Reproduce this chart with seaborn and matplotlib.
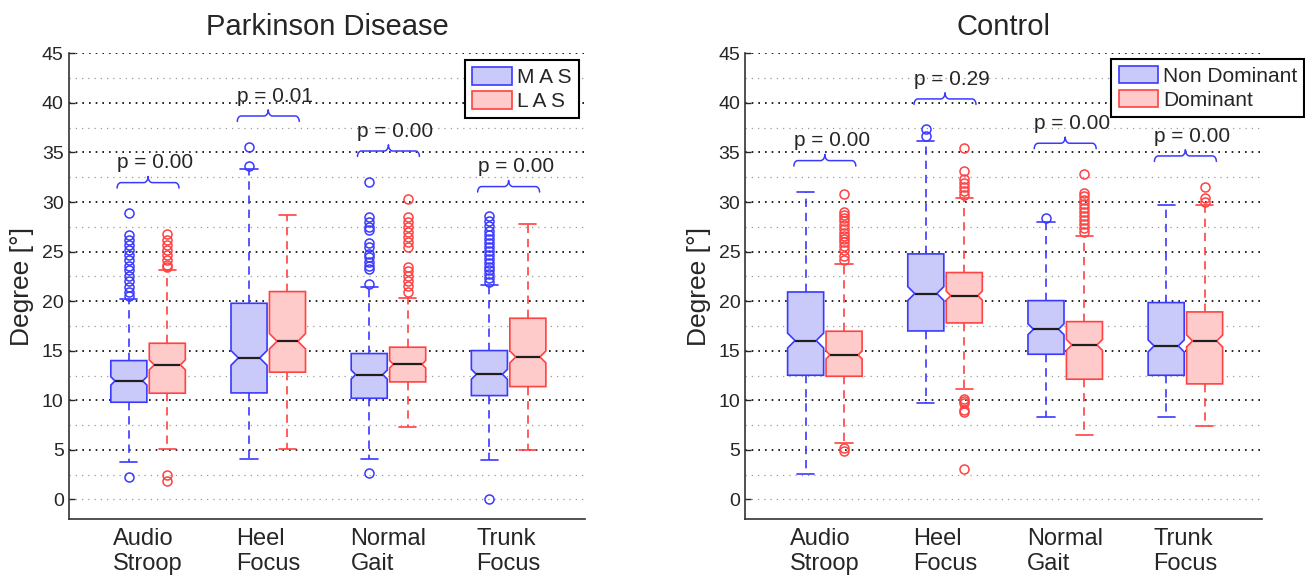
import numpy as np
import matplotlib
matplotlib.use("Agg")
import matplotlib.pyplot as plt
from matplotlib.path import Path
from matplotlib.patches import Patch
import seaborn as sns

# ---------------------------------------------------------------- data
tasks = ["Audio\nStroop", "Heel\nFocus", "Normal\nGait", "Trunk\nFocus"]

# Parkinson Disease: more affected side (MAS)
pd_mas_q1 = [9.81, 10.75, 10.21, 10.48]
pd_mas_med = [11.96, 14.28, 12.60, 12.63]
pd_mas_q3 = [14.01, 19.79, 14.72, 15.02]
pd_mas_lo = [3.83, 4.10, 4.10, 4.00]
pd_mas_hi = [20.20, 33.30, 21.40, 21.65]
pd_mas_notch = [0.42, 0.74, 0.45, 0.50]
pd_mas_out = [
    [2.3, 20.5, 20.9, 21.4, 22.0, 22.5, 23.1, 23.6, 24.2, 24.7, 25.2, 25.7, 26.2, 26.7, 28.9],
    [33.6, 35.6],
    [2.65, 21.7, 23.2, 23.6, 24.0, 24.5, 24.8, 25.5, 25.9, 27.2, 27.5, 28.0, 28.5, 32.06],
    [0.0, 21.9, 22.3, 22.7, 23.1, 23.5, 23.9, 24.3, 24.7, 25.1, 25.5, 25.9, 26.3, 26.7,
     27.1, 27.6, 28.1, 28.6],
]

# Parkinson Disease: less affected side (LAS)
pd_las_q1 = [10.72, 12.84, 11.86, 11.39]
pd_las_med = [13.58, 15.96, 13.64, 14.38]
pd_las_q3 = [15.76, 20.97, 15.36, 18.28]
pd_las_lo = [5.10, 5.14, 7.33, 5.00]
pd_las_hi = [23.16, 28.74, 20.30, 27.76]
pd_las_notch = [0.50, 0.77, 0.37, 0.60]
pd_las_out = [
    [1.9, 2.5, 23.4, 23.7, 24.2, 24.7, 25.2, 25.7, 26.2, 26.75],
    [],
    [20.9, 21.5, 22.0, 22.5, 23.0, 23.5, 25.5, 26.0, 26.5, 27.0, 27.5, 28.0, 28.5, 30.3],
    [],
]

# Control: non dominant side
ct_nd_q1 = [12.53, 17.00, 14.65, 12.53]
ct_nd_med = [16.03, 20.77, 17.17, 15.49]
ct_nd_q3 = [20.93, 24.77, 20.06, 19.86]
ct_nd_lo = [2.55, 9.71, 8.27, 8.30]
ct_nd_hi = [31.06, 36.20, 27.96, 29.74]
ct_nd_notch = [0.75, 0.70, 0.55, 0.60]
ct_nd_out = [[], [36.7, 37.4], [28.4], []]

# Control: dominant side
ct_d_q1 = [12.43, 17.81, 12.13, 11.66]
ct_d_med = [14.58, 20.56, 15.59, 15.99]
ct_d_q3 = [16.97, 22.89, 17.94, 18.92]
ct_d_lo = [5.68, 11.16, 6.49, 7.39]
ct_d_hi = [23.76, 30.45, 26.62, 29.74]
ct_d_notch = [0.40, 0.45, 0.55, 0.60]
ct_d_out = [
    [4.9, 5.15, 24.2, 24.6, 25.2, 25.6, 26.0, 26.3, 26.6, 26.9, 27.3, 27.7, 28.1, 28.4,
     28.7, 29.0, 30.85],
    [3.1, 8.8, 9.0, 9.7, 9.9, 10.15, 30.7, 31.1, 31.5, 31.9, 32.3, 33.1, 35.5],
    [27.0, 27.4, 27.8, 28.2, 28.6, 29.0, 29.4, 29.8, 30.2, 30.6, 30.9, 32.8],
    [30.0, 30.4, 31.5],
]

# p-values of the paired comparisons and height of their braces
pd_pvals = ["0.00", "0.01", "0.00", "0.00"]
pd_brace_y = [31.96, 38.68, 35.15, 31.56]
ct_pvals = ["0.00", "0.29", "0.00", "0.00"]
ct_brace_y = [34.18, 40.40, 35.93, 34.65]

# ---------------------------------------------------------------- style
BLUE = "#3a3aff"
BLUE_FILL = "#c9c9fa"
RED = "#ff4242"
RED_FILL = "#ffcaca"
TEXT = "#262626"

sns.set_theme(style="white")
plt.rcParams["font.family"] = ["Liberation Sans", "DejaVu Sans"]
plt.rcParams["text.color"] = TEXT
plt.rcParams["axes.labelcolor"] = TEXT
plt.rcParams["xtick.color"] = TEXT
plt.rcParams["ytick.color"] = TEXT

BOX_W = 0.30
OFFSET = 0.16


def make_stats(q1, med, q3, lo, hi, notch, out):
    return [dict(q1=a, med=m, q3=b, whislo=l, whishi=h, cilo=m - n, cihi=m + n,
                 fliers=np.asarray(f, dtype=float))
            for a, m, b, l, h, n, f in zip(q1, med, q3, lo, hi, notch, out)]


def brace(ax, xc, y, half_w, color):
    dx_end, dy_end = 0.032, 0.55
    dx_tip, dy_tip = 0.036, 0.62
    t = np.linspace(0, np.pi / 2, 14)
    x0 = xc - half_w
    xa = x0 + dx_end * (1 - np.cos(t))
    ya = (y - dy_end) + dy_end * np.sin(t)
    xb = xc - dx_tip + dx_tip * np.sin(t)
    yb = y + dy_tip * (1 - np.cos(t))
    xl = np.concatenate([xa, xb])
    yl = np.concatenate([ya, yb])
    xs = np.concatenate([xl, (2 * xc - xl)[::-1]])
    ys = np.concatenate([yl, yl[::-1]])
    ax.plot(xs, ys, color=color, lw=1.1, solid_capstyle="round", zorder=4)


def draw_panel(ax, groups, title, labels, pvals, brace_y):
    centers = np.arange(1, len(tasks) + 1)
    ax.set_xlim(0.338, 4.638)
    ax.set_ylim(-2, 45)

    arts = []
    for stats, shift, edge, fill in groups:
        pos = centers + shift
        art = ax.bxp(
            stats, positions=pos, widths=BOX_W, capwidths=0.144,
            shownotches=True, patch_artist=True, manage_ticks=False,
            boxprops=dict(facecolor=fill, edgecolor=edge, linewidth=1.2),
            whiskerprops=dict(color=edge, linestyle=(0, (5, 3.5)), linewidth=1.2),
            capprops=dict(color=edge, linewidth=1.2),
            medianprops=dict(color="#1e1e1e", linewidth=1.6),
            flierprops=dict(marker="o", markerfacecolor="none", markeredgecolor=edge,
                            markersize=6.5, markeredgewidth=1.1, linestyle="none"),
            zorder=3,
        )
        arts.append((art, stats, pos))

    # notch slants at 45 degrees on screen, as in the classic notched box plot
    fig = ax.figure
    fig.canvas.draw()
    p0 = ax.transData.transform((0, 0))
    px_x = ax.transData.transform((1, 0))[0] - p0[0]
    px_y = ax.transData.transform((0, 1))[1] - p0[1]
    for art, stats, pos in arts:
        for patch, med_line, st, x in zip(art["boxes"], art["medians"], stats, pos):
            inset = (st["cihi"] - st["med"]) * px_y / px_x
            path = patch.get_path()
            verts = np.array(path.vertices, copy=True)
            verts[3, 0] = x + BOX_W / 2 - inset
            verts[8, 0] = x - BOX_W / 2 + inset
            patch.set_path(Path(verts, path.codes))
            med_line.set_xdata([x - BOX_W / 2 + inset, x + BOX_W / 2 - inset])

    # significance braces
    half_w = 0.2575
    for c, p, yb in zip(centers, pvals, brace_y):
        brace(ax, c, yb, half_w, BLUE)
        ax.text(c - half_w, yb + 1.45, f"p = {p}", ha="left", va="baseline",
                fontsize=15, color=TEXT, zorder=5)

    # axes cosmetics
    ax.set_xticks(centers)
    ax.set_xticklabels(tasks, fontsize=17, multialignment="left", linespacing=1.2)
    ax.set_yticks(np.arange(0, 46, 5))
    ax.set_yticks(np.arange(2.5, 45, 5), minor=True)
    ax.tick_params(axis="y", which="major", direction="in", length=4, width=1,
                   labelsize=14, pad=3.5, left=True)
    ax.tick_params(axis="y", which="minor", length=0)
    ax.tick_params(axis="x", length=0, pad=6)
    ax.set_axisbelow(True)
    ax.yaxis.grid(True, which="major", color="black", linestyle=(0, (1, 3)), linewidth=1.2)
    ax.yaxis.grid(True, which="minor", color="#9a9a9a", linestyle=(0, (1, 4)), linewidth=0.9)
    zero_line = ax.yaxis.get_major_ticks()[0].gridline
    zero_line.set_color("#9a9a9a")
    zero_line.set_linewidth(0.9)
    zero_line.set_linestyle((0, (1, 4)))
    ax.xaxis.grid(False)
    for side in ("top", "right"):
        ax.spines[side].set_visible(False)
    for side in ("left", "bottom"):
        ax.spines[side].set_color("#333333")
        ax.spines[side].set_linewidth(1.2)

    ax.set_ylabel("Degree [°]", fontsize=19)
    ax.yaxis.set_label_coords(-0.067, 0.5)
    ax.set_title(title, fontsize=21, pad=13, color=TEXT)

    handles = [Patch(facecolor=fill, edgecolor=edge, linewidth=1.2)
               for _, _, edge, fill in groups]
    return handles, labels


fig = plt.figure(figsize=(13.05, 5.76), dpi=100)
ax_pd = fig.add_axes([0.0525, 0.0984, 0.396, 0.809])
ax_ct = fig.add_axes([0.5711, 0.0984, 0.396, 0.809])

pd_groups = [
    (make_stats(pd_mas_q1, pd_mas_med, pd_mas_q3, pd_mas_lo, pd_mas_hi, pd_mas_notch, pd_mas_out),
     -OFFSET, BLUE, BLUE_FILL),
    (make_stats(pd_las_q1, pd_las_med, pd_las_q3, pd_las_lo, pd_las_hi, pd_las_notch, pd_las_out),
     OFFSET, RED, RED_FILL),
]
ct_groups = [
    (make_stats(ct_nd_q1, ct_nd_med, ct_nd_q3, ct_nd_lo, ct_nd_hi, ct_nd_notch, ct_nd_out),
     -OFFSET, BLUE, BLUE_FILL),
    (make_stats(ct_d_q1, ct_d_med, ct_d_q3, ct_d_lo, ct_d_hi, ct_d_notch, ct_d_out),
     OFFSET, RED, RED_FILL),
]

legend_kw = dict(loc="upper right", borderaxespad=0, frameon=True, fancybox=False,
                 edgecolor="black", framealpha=1, fontsize=15, handlelength=1.9,
                 handleheight=0.9, handletextpad=0.22, labelspacing=0.2, borderpad=0.35)

h, l = draw_panel(ax_pd, pd_groups, "Parkinson Disease", ["M A S", "L A S"],
                  pd_pvals, pd_brace_y)
leg = ax_pd.legend(h, l, bbox_to_anchor=(0.987, 0.9856), **legend_kw)
leg.get_frame().set_linewidth(1.5)
leg.set_zorder(6)

h, l = draw_panel(ax_ct, ct_groups, "Control", ["Non Dominant", "Dominant"],
                  ct_pvals, ct_brace_y)
leg = ax_ct.legend(h, l, bbox_to_anchor=(1.082, 0.9884), **legend_kw)
leg.get_frame().set_linewidth(1.5)
leg.set_zorder(6)

fig.savefig("out.png", dpi=100, facecolor="white")
